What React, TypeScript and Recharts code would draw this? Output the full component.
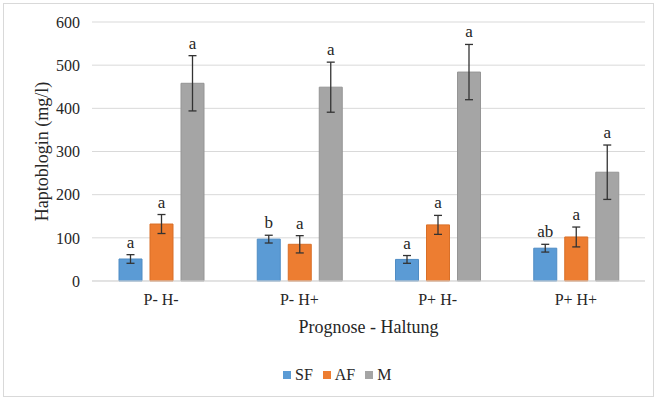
import React from 'react';
import { BarChart, Bar, XAxis, YAxis, CartesianGrid, Legend, ErrorBar, LabelList } from 'recharts';

const categories = ['P- H-', 'P- H+', 'P+ H-', 'P+ H+'];
const sfValues = [51, 97, 50, 76];
const sfErrors = [10, 9, 9, 9];
const sfLetters = ['a', 'b', 'a', 'ab'];
const afValues = [132, 85, 130, 102];
const afErrors = [22, 20, 22, 23];
const afLetters = ['a', 'a', 'a', 'a'];
const mValues = [458, 449, 484, 252];
const mErrors = [64, 58, 64, 63];
const mLetters = ['a', 'a', 'a', 'a'];
const yTicks = [0, 100, 200, 300, 400, 500, 600];

const FONT = 'Liberation Serif';
const TEXT = '#262626';

const chartData = categories.map((name, i) => ({
    name,
    SF: sfValues[i],
    sfErr: sfErrors[i],
    AF: afValues[i],
    afErr: afErrors[i],
    M: mValues[i],
    mErr: mErrors[i],
}));

const series = [
    { key: 'SF', errKey: 'sfErr', color: '#5b9bd5', edge: '#4f8cc4', values: sfValues, errors: sfErrors, letters: sfLetters },
    { key: 'AF', errKey: 'afErr', color: '#ed7d31', edge: '#d96f27', values: afValues, errors: afErrors, letters: afLetters },
    { key: 'M', errKey: 'mErr', color: '#a5a5a5', edge: '#959595', values: mValues, errors: mErrors, letters: mLetters },
];

// letter sits above the error bar cap; cap position comes from the bar's own px/unit
const makeLetterLabel = (values: number[], errors: number[], letters: string[]) => (props: any) => {
    const { x, y, width, height, index } = props;
    const v = values[index];
    const pxPerUnit = v ? height / v : 0;
    const capY = y - errors[index] * pxPerUnit;
    return (
        <text x={x + width / 2} y={capY - 7} textAnchor="middle" style={{ fontFamily: FONT, fontSize: 17 }} fill={TEXT}>
            {letters[index]}
        </text>
    );
};

const LegendContent = () => (
    <div style={{ display: 'flex', alignItems: 'center', fontFamily: FONT, fontSize: 16, color: TEXT, lineHeight: '18px' }}>
        {series.map(s => (
            <div key={s.key} style={{ display: 'flex', alignItems: 'center', marginRight: 10 }}>
                <span style={{ width: 8, height: 8, background: s.color, display: 'inline-block', marginRight: 4 }} />
                <span>{s.key}</span>
            </div>
        ))}
    </div>
);

const axisText = { fontSize: 16, fill: TEXT, style: { fontFamily: FONT } };

export default function App() {
    return (
        <div style={{ position: 'absolute', left: 0, top: 0, width: 656, height: 399, background: '#fff', fontFamily: FONT }}>
            <div style={{ position: 'absolute', left: 3, top: 3, width: 649, height: 392, border: '1px solid #d9d9d9' }} />
            <BarChart
                width={656}
                height={399}
                data={chartData}
                margin={{ top: 22, right: 11, left: 32, bottom: 58 }}
                barSize={23}
                barGap={8}
                style={{ fontFamily: FONT }}
            >
                <CartesianGrid vertical={false} stroke="#d9d9d9" />
                <XAxis
                    dataKey="name"
                    height={60}
                    tickLine={false}
                    tickMargin={7}
                    axisLine={{ stroke: '#d9d9d9' }}
                    tick={axisText}
                    label={{ value: 'Prognose - Haltung', position: 'insideBottom', offset: 8, style: { fontSize: 18, fontFamily: FONT, fill: TEXT } }}
                />
                <YAxis
                    width={60}
                    domain={[0, 600]}
                    ticks={yTicks}
                    tickLine={false}
                    axisLine={false}
                    tickMargin={6}
                    tick={axisText}
                    label={{ value: 'Haptoblogin (mg/l)', angle: -90, position: 'insideLeft', offset: 10, style: { textAnchor: 'middle', fontSize: 18, fontFamily: FONT, fill: TEXT } }}
                />
                <Legend
                    layout="horizontal"
                    verticalAlign="middle"
                    align="center"
                    content={<LegendContent />}
                    wrapperStyle={{ top: 366, left: 283, width: 130, height: 20 }}
                />
                {series.map(s => (
                    <Bar key={s.key} dataKey={s.key} fill={s.color} stroke={s.edge} strokeWidth={1} isAnimationActive={false}>
                        <ErrorBar dataKey={s.errKey} width={4} stroke="#333" strokeWidth={1.3} direction="y" />
                        <LabelList dataKey={s.key} content={makeLetterLabel(s.values, s.errors, s.letters)} />
                    </Bar>
                ))}
            </BarChart>
        </div>
    );
}
